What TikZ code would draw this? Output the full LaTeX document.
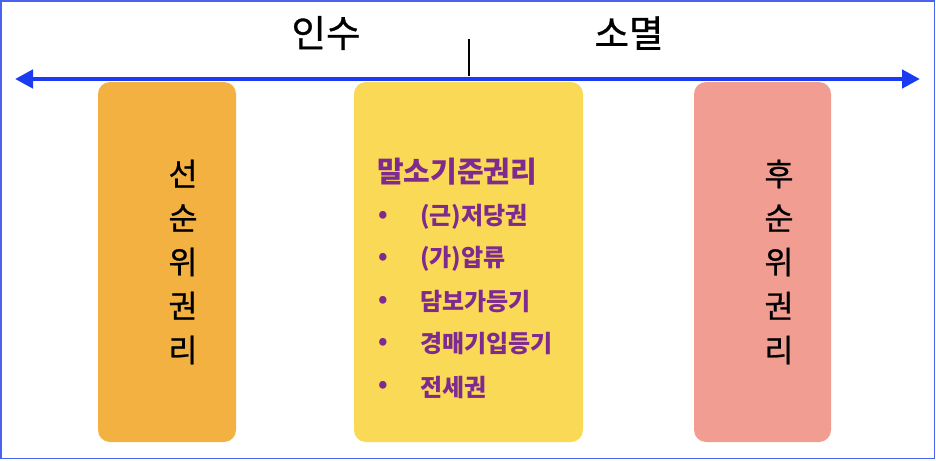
\documentclass[tikz,border=0pt]{standalone}
\usepackage{fontspec}
\setmainfont{Noto Sans CJK KR}[UprightFeatures={FakeBold=0.7}]
\usetikzlibrary{arrows.meta}
\definecolor{frameblue}{HTML}{4A62F0}
\definecolor{arrowblue}{HTML}{1A3BF0}
\definecolor{orangebox}{HTML}{F2B140}
\definecolor{yellowbox}{HTML}{F9D955}
\definecolor{pinkbox}{HTML}{F29D92}
\definecolor{purpletext}{HTML}{7F2A8F}
\tikzset{
  colbox/.style={rounded corners=12pt, draw=none, minimum width=#1, minimum height=360pt, inner sep=0pt},
  headtext/.style={font=\fontsize{37.5}{40}\selectfont, text=black, inner sep=0pt},
  vtext/.style={font=\fontsize{31.5}{44}\selectfont, text=black, align=center, inner sep=0pt},
  ytitle/.style={font=\bfseries\fontsize{29}{32}\selectfont, text=purpletext, anchor=west, inner sep=0pt},
  yitem/.style={font=\bfseries\fontsize{24}{26}\selectfont, text=purpletext, anchor=west, inner sep=0pt},
  ybullet/.style={font=\bfseries\fontsize{24}{26}\selectfont, text=purpletext, inner sep=0pt},
}
\begin{document}
\begin{tikzpicture}[x=1pt,y=-1pt]
\useasboundingbox (0,0) rectangle (936,460);
\draw[frameblue, line width=1.2pt] (1,1) rectangle (934.5,458.5) coordinate (frameend);
% boxes
\node[colbox=138pt, fill=orangebox] (lbox) at (167,262) {};
\node[colbox=229pt, fill=yellowbox] (mbox) at (468.5,262) {};
\node[colbox=137pt, fill=pinkbox] (rbox) at (762.5,262) {};
% timeline
\coordinate (aleft) at (15,79);
\coordinate (aright) at (920,79);
\draw[arrowblue, line width=4.5pt, {Triangle[length=18pt,width=18pt]}-{Triangle[length=18pt,width=18pt]}] (aleft) -- (aright);
\coordinate (tickt) at (469,39);
\coordinate (tickb) at (469,76);
\draw[black, line width=1.5pt] (tickt) -- (tickb);
\node[headtext] (insu) at (326,33) {인수};
\node[headtext] (somyeol) at (629,33) {소멸};
% left/right vertical texts
\node[vtext] (ltext) at (183,262) {선\\순\\위\\권\\리};
\node[vtext] (rtext) at (779,262) {후\\순\\위\\권\\리};
% middle list
\node[ytitle] (title) at (377,172) {말소기준권리};
\node[ybullet] (b1) at (383,217) {•};
\node[ybullet] (b2) at (383,259) {•};
\node[ybullet] (b3) at (383,302) {•};
\node[ybullet] (b4) at (383,344) {•};
\node[ybullet] (b5) at (383,387) {•};
\node[yitem] (i1) at (420,217) {(근)저당권};
\node[yitem] (i2) at (420,259) {(가)압류};
\node[yitem] (i3) at (420,302) {담보가등기};
\node[yitem] (i4) at (420,344) {경매기입등기};
\node[yitem] (i5) at (420,387) {전세권};
\end{tikzpicture}
\end{document}
